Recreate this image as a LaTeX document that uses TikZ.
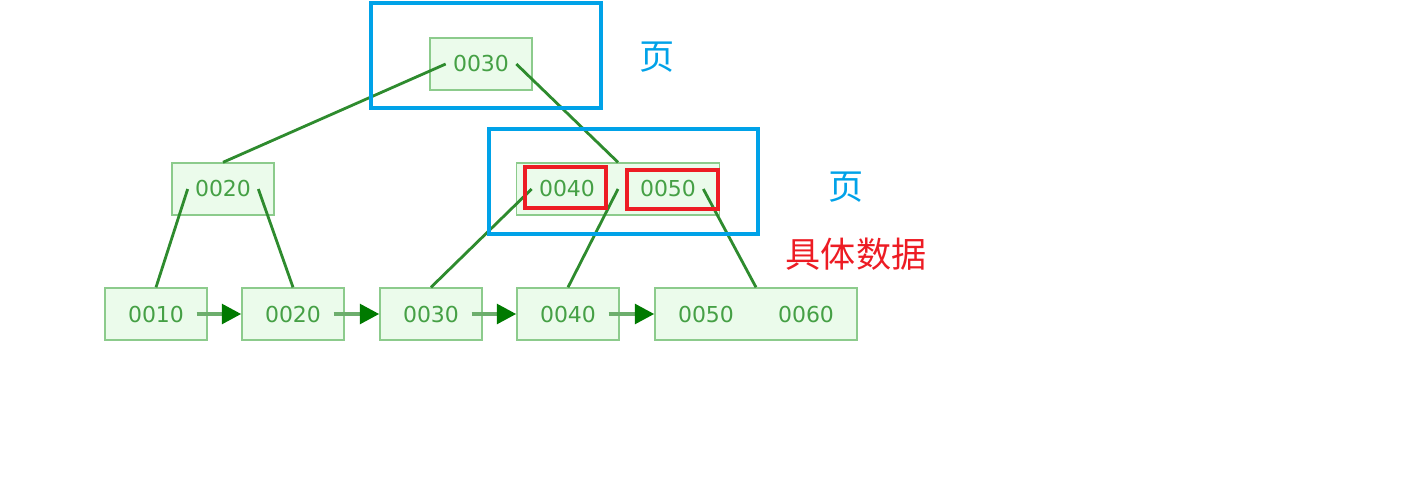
\documentclass[tikz,border=0pt]{standalone}
\usepackage{fontspec}
\setmainfont{DejaVu Sans}
\newfontfamily\cjk{Noto Sans CJK SC}
\usepackage{xcolor}
\usetikzlibrary{positioning, arrows.meta}

\definecolor{boxfill}{HTML}{EBFBEB}
\definecolor{boxline}{HTML}{8CCB8C}
\definecolor{keytext}{HTML}{45A045}
\definecolor{edgegreen}{HTML}{2E8B2E}
\definecolor{arrowgreen}{HTML}{007A00}
\definecolor{pageblue}{HTML}{00A2E8}
\definecolor{datared}{HTML}{ED1C24}

\begin{document}
\begin{tikzpicture}[
        x=0.02cm, y=-0.02cm,
        page/.style={draw=boxline, line width=0.8pt, fill=boxfill, minimum width=2.04cm, minimum height=1.04cm, inner sep=0pt},
        key/.style={text=keytext, font=\fontsize{12.5}{14}\selectfont, inner sep=4pt},
        edge/.style={-, line width=1.6pt, edgegreen},
        link/.style={-{Triangle[length=11pt, width=11pt, color=arrowgreen, fill=arrowgreen]}, line width=2.4pt, edgegreen!70},
        pagemark/.style={draw=pageblue, line width=2.3pt, inner sep=0pt},
        hit/.style={draw=datared, line width=2pt, inner sep=0pt},
        note/.style={font=\cjk\fontsize{20}{24}\selectfont}
    ]
    \useasboundingbox (0,0) rectangle (1423,477);

    % Root
    \node[page] (root) at (481,64) {};
    \node[key] (r30) at (481,64) {0030};

    % Middle row
    \node[page] (midl) at (223,189) {};
    \node[key] (m20) at (223,189) {0020};
    \node[page, minimum width=4.06cm] (midr) at (618,189) {};
    \node[key] (m40) at (567,189) {0040};
    \node[key] (m50) at (668,189) {0050};

    % Leaf row
    \node[page] (leaf10) at (156,314) {};
    \node[key] (b10) at (156,314) {0010};
    \node[page] (leaf20) at (293,314) {};
    \node[key] (b20) at (293,314) {0020};
    \node[page] (leaf30) at (431,314) {};
    \node[key] (b30) at (431,314) {0030};
    \node[page] (leaf40) at (568,314) {};
    \node[key] (b40) at (568,314) {0040};
    \node[page, minimum width=4.04cm] (leaf50) at (756,314) {};
    \node[key] (b50) at (706,314) {0050};
    \node[key] (b60) at (806,314) {0060};

    % Tree edges
    \draw[edge] (r30.west) -- (midl.north);
    \draw[edge] (r30.east) -- (midr.north);
    \draw[edge] (m20.west) -- (leaf10.north);
    \draw[edge] (m20.east) -- (leaf20.north);
    \draw[edge] (m40.west) -- (leaf30.north);
    \draw[edge] (midr.center) -- (leaf40.north);
    \draw[edge] (m50.east) -- (leaf50.north);

    % Leaf links
    \draw[link] ([xshift=3pt]b10.east) -- (leaf20.west);
    \draw[link] ([xshift=3pt]b20.east) -- (leaf30.west);
    \draw[link] ([xshift=3pt]b30.east) -- (leaf40.west);
    \draw[link] ([xshift=3pt]b40.east) -- (leaf50.west);

    % Page marks
    \node[pagemark, minimum width=4.6cm, minimum height=2.1cm] (page1) at (486,55.5) {};
    \node[pagemark, minimum width=5.38cm, minimum height=2.1cm] (page2) at (623.5,181.5) {};
    \node[hit, minimum width=1.62cm, minimum height=0.82cm] (hit40) at (565.5,187.5) {};
    \node[hit, minimum width=1.82cm, minimum height=0.78cm] (hit50) at (672.5,189.5) {};

    % Labels
    \node[note, text=pageblue] (lab1) at (657,57) {页};
    \node[note, text=pageblue] (lab2) at (846,187) {页};
    \node[note, text=datared] (lab3) at (856,254) {具体数据};

\end{tikzpicture}
\end{document}
